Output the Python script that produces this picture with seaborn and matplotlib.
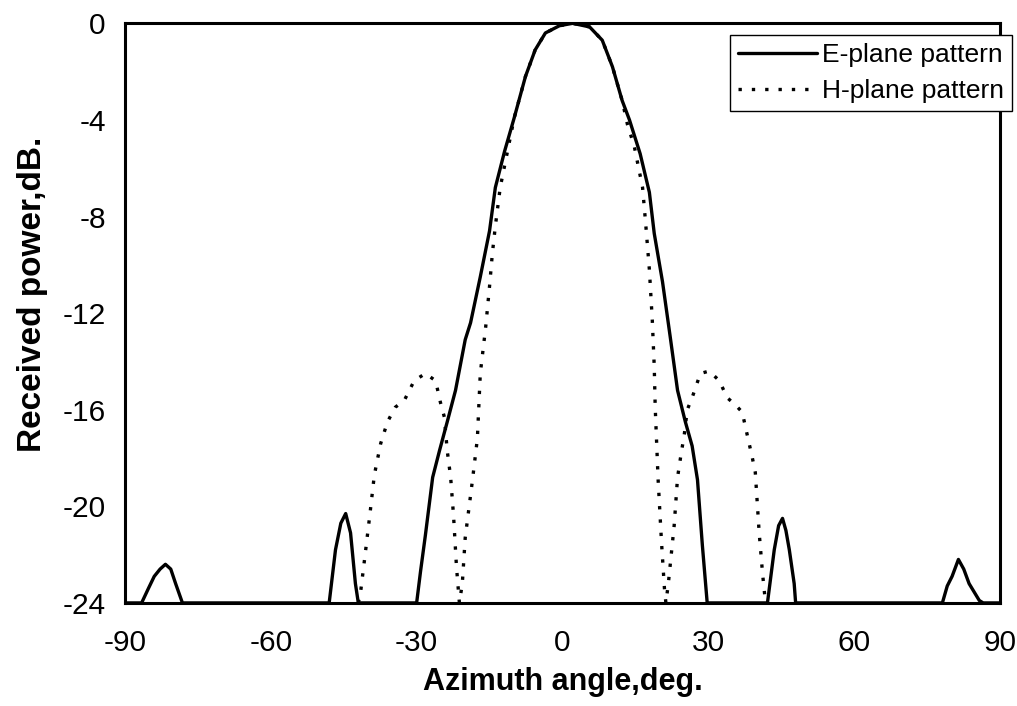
"""Antenna radiation pattern: E-plane vs H-plane received power."""

import matplotlib

matplotlib.use("Agg")
import matplotlib.pyplot as plt
import pandas as pd
import seaborn as sns

# E-plane pattern (deg, dB)
E_DEG = [-90, -86.6, -85.2, -84.0, -82.8, -81.7, -80.6, -79.6, -78.2,
         -48.0, -46.7, -45.6, -44.6, -43.6, -42.6, -42.0,
         -30.0, -29.2, -28.2, -26.7, -25.3, -23.7, -22.0, -20.0, -18.9, -16.9,
         -15.0, -13.8, -11.9, -9.9, -7.6, -5.6, -3.5, -0.6, 2.1, 5.6,
         8.2, 10.3, 12.3, 13.8, 16.0, 17.9, 18.9, 20.6, 22.2, 23.7,
         25.3, 26.7, 27.8, 28.8, 29.8,
         42.2, 43.6, 44.5, 45.3, 46.0, 46.7, 47.7, 48.0,
         78.2, 79.2, 80.2, 81.5, 82.6, 83.7, 85.8, 86.6, 90]
E_DB = [-24, -24, -23.4, -22.9, -22.6, -22.4, -22.6, -23.2, -24,
        -24, -21.8, -20.7, -20.3, -21.1, -23.2, -24,
        -24, -22.7, -21.2, -18.8, -17.7, -16.5, -15.2, -13.1, -12.4, -10.5,
        -8.6, -6.8, -5.3, -3.9, -2.2, -1.1, -0.4, -0.1, 0.0, -0.15,
        -0.7, -1.8, -3.2, -4.0, -5.4, -7.0, -8.7, -10.7, -13.0, -15.2,
        -16.5, -17.5, -18.9, -21.6, -24,
        -24, -21.8, -20.8, -20.5, -21.0, -21.8, -23.2, -24,
        -24, -23.3, -22.9, -22.2, -22.6, -23.2, -23.9, -24, -24]

# H-plane pattern (deg, dB)
H_DEG = [-42.0, -41.5, -40.6, -39.6, -38.7, -37.4, -36.0, -34.4, -32.5, -30.5,
         -28.2, -26.1, -25.1, -24.3, -23.7, -23.0, -22.4, -21.8, -21.2,
         -20.6, -20.0, -18.5, -17.5, -16.9, -15.8, -15.0, -14.4, -13.8, -12.8,
         -11.3, -9.9, -7.6, -5.6, -3.5, -0.6, 2.1, 5.6, 8.2, 10.3, 12.3,
         13.4, 14.8, 16.5, 17.1, 17.9, 18.5, 18.9, 19.1, 19.7, 20.4, 21.0, 21.3,
         21.8, 22.4, 23.0, 23.7, 24.3, 25.1, 25.7, 26.7, 28.4, 30.2, 32.3,
         33.9, 35.6, 37.0, 38.1, 39.1, 39.7, 40.5, 41.2, 41.8]
H_DB = [-24, -23.5, -22.0, -20.3, -18.7, -17.4, -16.5, -15.9, -15.6, -14.8,
        -14.5, -14.8, -15.7, -16.3, -17.7, -18.8, -20.4, -22.5, -24,
        -23.2, -21.3, -18.9, -17.2, -14.5, -12.6, -10.9, -9.5, -8.4, -6.8,
        -5.3, -3.9, -2.2, -1.1, -0.4, -0.1, 0.0, -0.15, -0.7, -1.8, -3.2,
        -4.2, -5.1, -6.8, -8.2, -10.2, -12.3, -14.2, -15.9, -18.9, -21.5, -23.4, -24,
        -23.2, -22.0, -20.8, -18.8, -18.0, -17.0, -16.0, -15.5, -14.5, -14.4, -14.8,
        -15.5, -15.8, -16.1, -17.1, -18.0, -18.6, -21.1, -22.8, -24]

X_TICKS = [-90, -60, -30, 0, 30, 60, 90]
Y_TICKS = [0, -4, -8, -12, -16, -20, -24]

sns.set_theme(style="white")
plt.rcParams["font.family"] = ["Liberation Sans", "DejaVu Sans"]
plt.rcParams["axes.unicode_minus"] = False
plt.rcParams["text.color"] = "black"
plt.rcParams["axes.labelcolor"] = "black"

e = pd.DataFrame({"deg": E_DEG, "db": E_DB})
h = pd.DataFrame({"deg": H_DEG, "db": H_DB})

fig = plt.figure(figsize=(10.17, 7.06), dpi=100)
ax = fig.add_axes([0.123, 0.146, 0.860, 0.821])

sns.lineplot(data=e, x="deg", y="db", ax=ax, color="black", lw=2.4,
             estimator=None, sort=False, label="E-plane pattern")
sns.lineplot(data=h, x="deg", y="db", ax=ax, color="black", lw=2.4,
             linestyle=(0, (1, 3)), estimator=None, sort=False,
             label="H-plane pattern")

ax.set_xlim(-90, 90)
ax.set_ylim(-24, 0)
ax.set_xticks(X_TICKS)
ax.set_yticks(Y_TICKS)
ax.tick_params(axis="both", direction="in", length=5, width=1, color="black",
               labelsize=21.5, labelcolor="black")
ax.tick_params(axis="x", pad=19)
ax.tick_params(axis="y", pad=14)
for s in ax.spines.values():
    s.set_color("black"); s.set_linewidth(2.2)

ax.set_xlabel("Azimuth angle,deg.", fontsize=22, fontweight="bold", labelpad=7,
              color="black")
ax.set_ylabel("Received power,dB.", fontsize=24, fontweight="bold", color="black")
ax.yaxis.set_label_coords(-0.088, 0.533)

leg = ax.legend(loc="upper right", bbox_to_anchor=(1.014, 0.979), fontsize=19,
                frameon=True, fancybox=False, framealpha=1, edgecolor="black",
                handlelength=3.0, handletextpad=0.2, labelspacing=0.45,
                borderpad=0.3, borderaxespad=0, labelcolor="black")
leg.get_frame().set_linewidth(1.0)

fig.savefig("out.png", dpi=100)
